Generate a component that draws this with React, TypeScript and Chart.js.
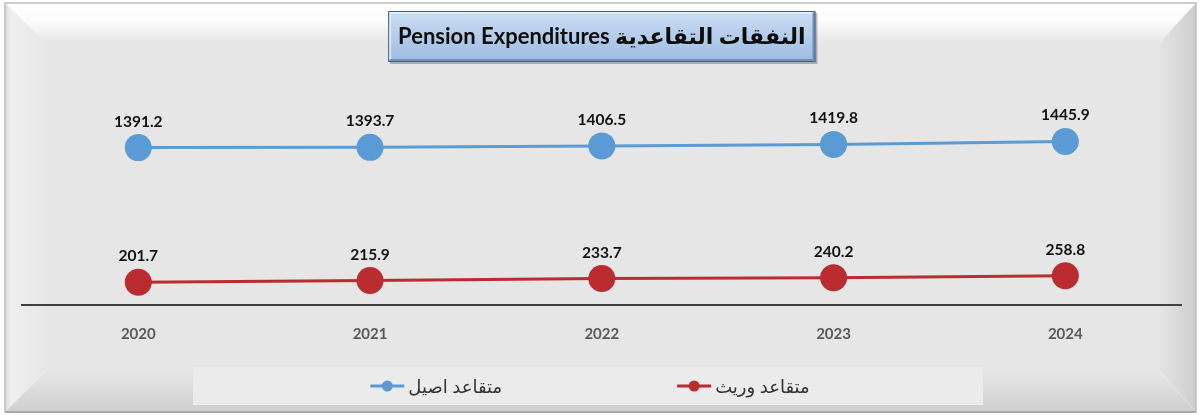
import React, { useEffect, useRef } from "react";
import { Chart, registerables } from "chart.js";

Chart.register(...registerables);

// ---- data ----
const years = ["2020", "2021", "2022", "2023", "2024"];
const originalPensioners = [1391.2, 1393.7, 1406.5, 1419.8, 1445.9];
const survivorPensioners = [201.7, 215.9, 233.7, 240.2, 258.8];
const seriesNames = ["متقاعد اصيل", "متقاعد وريث"];
const titleText = "Pension Expenditures النفقات التقاعدية";
const yMin = 0;
const yMax = 1600;

// ---- styles ----
const BLUE = "#5B9BD5";
const RED = "#BA2C2F";
const FONT = "Lato, 'Open Sans', 'DejaVu Sans', sans-serif";

const framePlugin = {
  id: "frame",
  beforeDraw(chart: any) {
    const ctx = chart.ctx as CanvasRenderingContext2D;
    const W = chart.width;
    const H = chart.height;
    ctx.save();
    ctx.fillStyle = "#FFFFFF";
    ctx.fillRect(0, 0, W, H);
    const o = { l: 5, t: 3, r: W - 4, b: H - 3 };
    const i = { l: 45, t: 42, r: W - 40, b: H - 43 };
    // face
    ctx.fillStyle = "#E6E6E6";
    ctx.fillRect(i.l, i.t, i.r - i.l, i.b - i.t);
    const poly = (pts: number[][], fill: any) => {
      ctx.beginPath();
      ctx.moveTo(pts[0][0], pts[0][1]);
      for (let k = 1; k < pts.length; k++) ctx.lineTo(pts[k][0], pts[k][1]);
      ctx.closePath();
      ctx.fillStyle = fill;
      ctx.fill();
    };
    // top bevel
    let g = ctx.createLinearGradient(0, o.t, 0, i.t);
    g.addColorStop(0, "#FFFFFF");
    g.addColorStop(0.45, "#FCFCFC");
    g.addColorStop(1, "#E6E6E6");
    poly([[o.l, o.t], [o.r, o.t], [i.r, i.t], [i.l, i.t]], g);
    // left bevel
    g = ctx.createLinearGradient(o.l, 0, i.l, 0);
    g.addColorStop(0, "#DADADA");
    g.addColorStop(0.15, "#EFEFEF");
    g.addColorStop(1, "#E7E7E7");
    poly([[o.l, o.t], [i.l, i.t], [i.l, i.b], [o.l, o.b]], g);
    // right bevel
    g = ctx.createLinearGradient(i.r, 0, o.r, 0);
    g.addColorStop(0, "#E4E4E4");
    g.addColorStop(1, "#CDCDCD");
    poly([[o.r, o.t], [o.r, o.b], [i.r, i.b], [i.r, i.t]], g);
    // bottom bevel
    g = ctx.createLinearGradient(0, i.b, 0, o.b);
    g.addColorStop(0, "#E5E5E5");
    g.addColorStop(1, "#CFCFCF");
    poly([[o.l, o.b], [i.l, i.b], [i.r, i.b], [o.r, o.b]], g);
    // outer border
    ctx.strokeStyle = "#BDBDBD";
    ctx.lineWidth = 1.5;
    ctx.strokeRect(o.l, o.t, o.r - o.l, o.b - o.t);
    ctx.strokeStyle = "#A0A0A0";
    ctx.beginPath();
    ctx.moveTo(o.l, o.b);
    ctx.lineTo(o.r, o.b);
    ctx.stroke();

    // title box
    const tFont = chart.options.plugins.title.font;
    ctx.font = `bold ${tFont.size}px ${tFont.family}`;
    const tw = ctx.measureText(titleText).width;
    const cx = (chart.chartArea.left + chart.chartArea.right) / 2;
    const bx = cx - tw / 2 - 10;
    const bw = tw + 20;
    const by = 11;
    const bh = 51;
    ctx.fillStyle = "rgba(0,0,0,0.25)";
    ctx.fillRect(bx + 2, by + 2, bw, bh);
    g = ctx.createLinearGradient(0, by, 0, by + bh);
    g.addColorStop(0, "#CBDDF3");
    g.addColorStop(1, "#9CBCE1");
    ctx.fillStyle = g;
    ctx.fillRect(bx, by, bw, bh);
    // bevel edges
    ctx.lineWidth = 3;
    ctx.strokeStyle = "#DDE9F7";
    ctx.beginPath();
    ctx.moveTo(bx + 1.5, by + bh - 1.5);
    ctx.lineTo(bx + 1.5, by + 1.5);
    ctx.lineTo(bx + bw - 1.5, by + 1.5);
    ctx.stroke();
    ctx.strokeStyle = "#6F90B8";
    ctx.beginPath();
    ctx.moveTo(bx + bw - 1.5, by + 1.5);
    ctx.lineTo(bx + bw - 1.5, by + bh - 1.5);
    ctx.lineTo(bx + 1.5, by + bh - 1.5);
    ctx.stroke();
    ctx.lineWidth = 1;
    ctx.strokeStyle = "#4A6384";
    ctx.strokeRect(bx + 0.5, by + 0.5, bw - 1, bh - 1);

    // legend box
    ctx.fillStyle = "#EBEBEB";
    ctx.fillRect(193, 367, 790, 38);
    ctx.restore();
  },
  afterDraw(chart: any) {
    // legend items built from datasets
    const ctx = chart.ctx as CanvasRenderingContext2D;
    ctx.save();
    ctx.font = `18px ${FONT}`;
    ctx.textBaseline = "middle";
    ctx.textAlign = "left";
    const markerW = 34;
    const gapText = 4;
    const gapItems = 175;
    const ds = chart.data.datasets;
    const widths = ds.map((d: any) => markerW + gapText + ctx.measureText(d.label).width);
    const total = widths.reduce((a: number, b: number) => a + b, 0) + gapItems * (ds.length - 1);
    let x = 590 - total / 2;
    const y = 386;
    ds.forEach((d: any, k: number) => {
      ctx.strokeStyle = d.borderColor;
      ctx.lineWidth = 3;
      ctx.beginPath();
      ctx.moveTo(x, y);
      ctx.lineTo(x + markerW, y);
      ctx.stroke();
      ctx.fillStyle = d.borderColor;
      ctx.beginPath();
      ctx.arc(x + markerW / 2, y, 5.5, 0, Math.PI * 2);
      ctx.fill();
      ctx.fillStyle = "#333333";
      ctx.fillText(d.label, x + markerW + gapText, y + 1);
      x += widths[k] + gapItems;
    });
    ctx.restore();
  },
};

const valueLabelPlugin = {
  id: "valueLabels",
  afterDatasetsDraw(chart: any) {
    const ctx = chart.ctx as CanvasRenderingContext2D;
    ctx.save();
    ctx.font = `bold 15.5px ${FONT}`;
    ctx.fillStyle = "#111111";
    ctx.textAlign = "center";
    ctx.textBaseline = "middle";
    chart.data.datasets.forEach((d: any, di: number) => {
      const meta = chart.getDatasetMeta(di);
      meta.data.forEach((pt: any, pi: number) => {
        ctx.fillText(d.data[pi].toFixed(1), pt.x, pt.y - 26);
      });
    });
    ctx.restore();
  },
};

export default function App() {
  const ref = useRef<HTMLCanvasElement | null>(null);
  useEffect(() => {
    if (!ref.current) return;
    const chart = new Chart(ref.current, {
      type: "line",
      data: {
        labels: years,
        datasets: [
          {
            label: seriesNames[0],
            data: originalPensioners,
            borderColor: BLUE,
            backgroundColor: BLUE,
            pointBackgroundColor: BLUE,
            borderWidth: 3,
            pointRadius: 13.5,
            pointHoverRadius: 13.5,
            pointBorderWidth: 0,
            clip: false as any,
          },
          {
            label: seriesNames[1],
            data: survivorPensioners,
            borderColor: RED,
            backgroundColor: RED,
            pointBackgroundColor: RED,
            borderWidth: 3,
            pointRadius: 13.5,
            pointHoverRadius: 13.5,
            pointBorderWidth: 0,
            clip: false as any,
          },
        ],
      },
      options: {
        animation: false,
        responsive: true,
        maintainAspectRatio: false,
        layout: { padding: { left: 22.4, right: 18.8, top: 0, bottom: 0 } },
        plugins: {
          legend: { display: false },
          tooltip: { enabled: false },
          title: {
            display: true,
            text: titleText,
            color: "#0D0D0D",
            font: { family: FONT, size: 22, weight: "bold", lineHeight: 1.2 },
            padding: { top: 23.8, bottom: 73.8 },
          },
        },
        scales: {
          x: {
            type: "category",
            offset: true,
            grid: { display: false, drawTicks: false },
            border: { display: true, color: "#404040", width: 2 },
            ticks: {
              color: "#595959",
              font: { family: FONT, size: 15, weight: "bold" },
              padding: 20,
            },
            afterFit(scale: any) {
              scale.height = 110;
            },
          },
          y: {
            display: false,
            min: yMin,
            max: yMax,
          },
        },
      },
      plugins: [framePlugin, valueLabelPlugin],
    });
    return () => chart.destroy();
  }, []);
  return (
    <div style={{ position: "absolute", left: 0, top: 0, width: 1200, height: 415 }}>
      <canvas ref={ref} />
    </div>
  );
}
